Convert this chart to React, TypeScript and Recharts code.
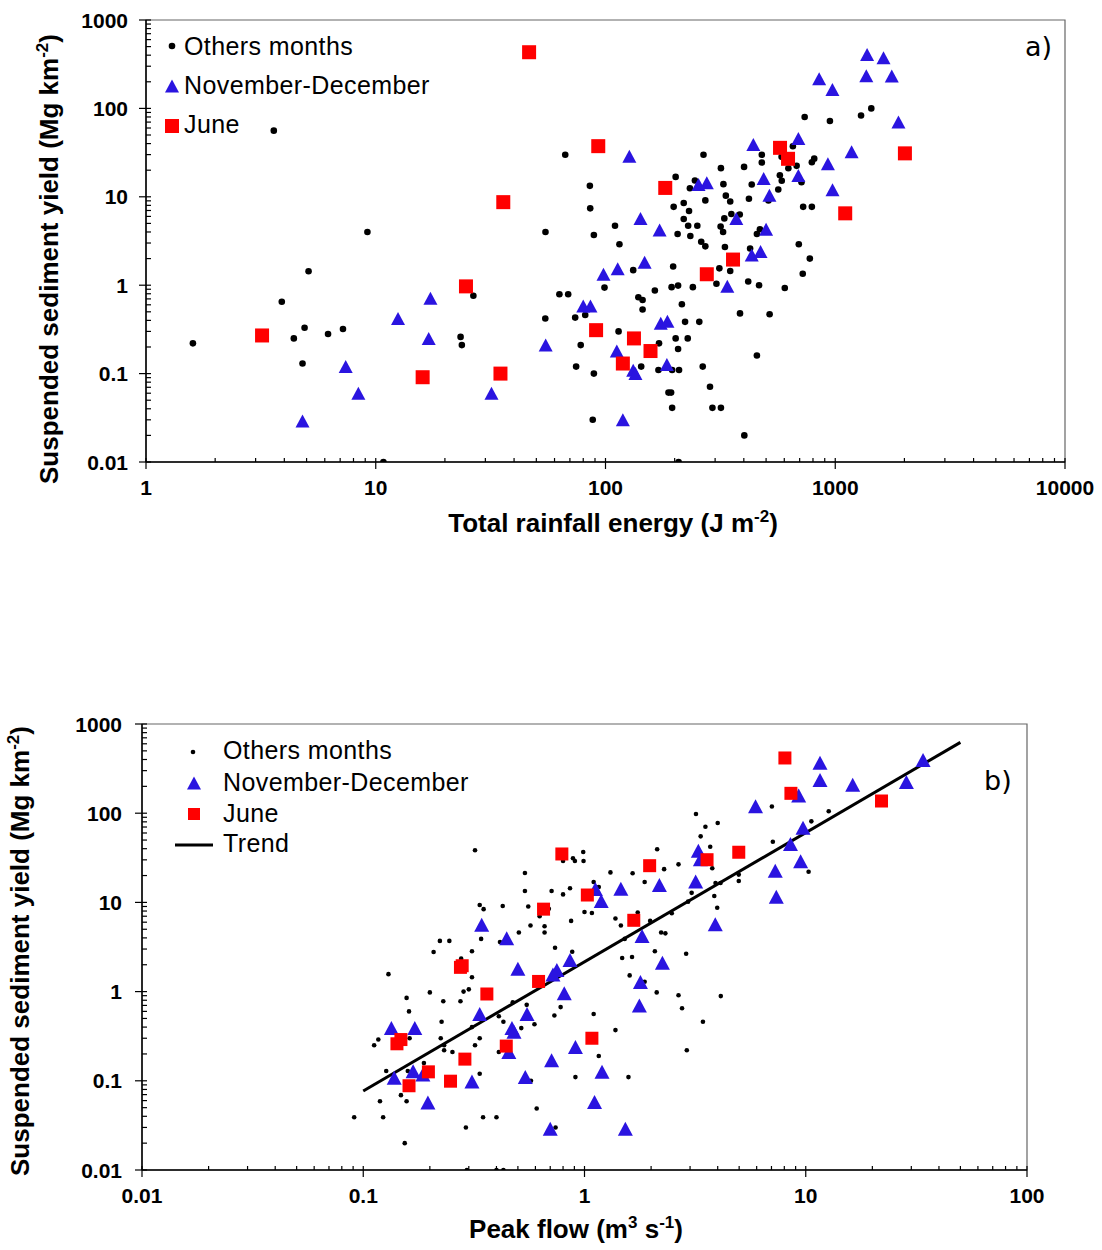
import React from "react";
import { ScatterChart, Scatter, XAxis, YAxis, ReferenceArea } from "recharts";

type Pt = [number, number];

// a) total rainfall energy (J m-2) vs suspended sediment yield (Mg km-2)
const othersA: Pt[] = [
  [1.6, 0.22], [3.6, 56], [3.9, 0.65], [5.1, 1.44], [4.4, 0.25], [4.9, 0.33], [4.8, 0.13], [6.2, 0.28],
  [7.2, 0.32], [9.2, 4.0], [10.8, 0.01], [23.4, 0.26], [23.7, 0.21], [26.6, 0.76], [54.7, 0.42], [54.8, 4.0],
  [63, 0.79], [68.8, 0.79], [66.8, 29.9], [85.5, 13.3], [85.8, 7.4], [89, 3.7], [110, 4.7], [115, 2.9],
  [99, 0.94], [132, 1.48], [197, 1.63], [164, 0.87], [202, 16.8], [245, 15.3], [233, 12.5], [219, 8.5],
  [198, 7.7], [231, 6.9], [219, 5.6], [229, 4.7], [251, 4.7], [206, 3.8], [234, 3.6], [261, 3.1],
  [272, 2.75], [267, 29.9], [318, 21.1], [326, 13.9], [334, 10.3], [349, 8.85], [272, 9.1], [401, 21.8],
  [433, 13.8], [421, 9.5], [329, 5.7], [353, 6.4], [384, 6.3], [317, 4.6], [325, 4.0], [331, 2.7],
  [349, 1.45], [313, 1.55], [304, 1.04], [194, 0.95], [207, 0.99], [240, 0.95], [479, 29.9], [479, 24.4],
  [654, 37.3], [584, 28.3], [625, 21], [679, 22.4], [791, 24.6], [810, 27], [574, 17.5], [585, 15.2],
  [565, 12.1], [512, 9.1], [713, 14.6], [725, 7.7], [791, 7.7], [694, 2.9], [775, 2.0], [722, 1.35],
  [603, 0.93], [418, 1.1], [466, 1.0], [456, 3.8], [470, 4.3], [426, 2.6], [736, 80], [948, 72],
  [1295, 83], [1435, 100], [139, 0.73], [145, 0.68], [215, 0.61], [145, 0.53], [222, 0.385], [256, 0.385],
  [385, 0.48], [518, 0.47], [114, 0.3], [78, 0.21], [171, 0.22], [202, 0.25], [228, 0.25], [207, 0.19],
  [456, 0.16], [74.5, 0.12], [89, 0.1], [143, 0.12], [170, 0.11], [195, 0.11], [209, 0.11], [265, 0.12],
  [285, 0.071], [188, 0.061], [193, 0.061], [195, 0.041], [292, 0.041], [318, 0.041], [88, 0.03], [402, 0.02],
  [208, 0.01], [73.8, 0.43], [81.6, 0.46],
];

const novDecA: Pt[] = [
  [4.8, 0.029], [7.4, 0.12], [8.4, 0.06], [12.5, 0.42], [17.3, 0.71], [17.0, 0.25], [31.9, 0.06], [54.9, 0.21],
  [127, 28.8], [254, 13.8], [276, 14.4], [440, 39], [691, 45.6], [1178, 32.3], [488, 16.1], [691, 17.4],
  [929, 23.6], [517, 10.4], [973, 12.0], [142, 5.7], [172, 4.2], [371, 5.7], [500, 4.3], [433, 2.2],
  [473, 2.4], [148, 1.82], [113, 1.53], [98, 1.33], [339, 0.97], [80, 0.58], [86, 0.58], [174, 0.37],
  [186, 0.39], [112, 0.18], [132, 0.109], [135, 0.1], [185, 0.127], [119, 0.03], [1376, 407], [1622, 373],
  [1365, 234], [1762, 232], [851, 216], [972, 164], [1884, 70],
];

const juneA: Pt[] = [
  [3.2, 0.27], [16.0, 0.091], [24.7, 0.97], [34.9, 0.1], [35.9, 8.7], [46.5, 432], [93, 37.4], [91, 0.31],
  [119, 0.13], [133, 0.25], [157, 0.18], [182, 12.6], [276, 1.33], [359, 1.95], [575, 35.8], [623, 26.9],
  [1105, 6.5], [2010, 31],
];

// b) peak flow (m3 s-1) vs suspended sediment yield (Mg km-2)
const othersB: Pt[] = [
  [0.091, 0.039], [0.119, 0.059], [0.123, 0.039], [0.154, 0.02], [0.148, 0.069], [0.157, 0.059], [0.13, 1.57],
  [0.157, 0.85], [0.161, 0.6], [0.112, 0.25], [0.117, 0.29], [0.162, 0.3], [0.127, 0.129], [0.2, 0.98],
  [0.208, 2.78], [0.23, 0.78], [0.226, 0.46], [0.224, 0.3], [0.232, 0.25], [0.232, 0.22], [0.253, 0.21],
  [0.188, 0.158], [0.159, 0.129], [0.291, 0.03], [0.294, 0.01], [0.4, 0.01], [0.43, 0.01], [0.348, 0.039],
  [0.4, 0.039], [0.336, 0.12], [0.336, 0.3], [0.32, 0.25], [0.275, 0.78], [0.284, 1.0], [0.3, 1.06],
  [0.277, 2.34], [0.31, 2.83], [0.31, 1.45], [0.41, 0.53], [0.43, 0.46], [0.474, 0.76], [0.41, 0.21],
  [0.518, 0.39], [0.548, 0.71], [0.594, 0.43], [0.573, 0.1], [0.608, 0.049], [0.731, 0.54],
  [0.32, 38.4], [0.336, 9.35], [0.35, 8.4], [0.427, 9.1], [0.538, 21.4], [0.538, 13.4], [0.557, 9.0],
  [0.71, 13.4], [0.57, 5.5], [0.505, 4.6], [0.66, 4.6], [0.341, 3.9], [0.415, 3.6], [0.222, 3.7],
  [0.245, 3.7], [0.736, 3.1], [0.69, 8.5], [0.66, 5.4], [0.627, 7.0], [0.8, 29.1], [0.905, 29.1],
  [0.987, 36.7], [0.99, 29.1], [0.887, 31.2], [0.8, 12.3], [0.86, 14.4], [0.87, 6.2], [1.0, 7.8],
  [1.08, 7.6], [1.1, 16.9], [1.16, 14.9], [1.31, 21.7], [1.65, 21.2], [1.87, 16.9], [1.38, 6.6],
  [1.46, 5.5], [1.74, 7.7], [1.98, 6.2], [2.13, 39.4], [2.08, 2.83], [1.48, 2.38], [1.64, 2.44],
  [1.6, 1.52], [1.87, 1.29], [2.12, 0.98], [0.31, 0.4], [0.78, 0.67], [1.1, 0.56], [1.38, 0.37],
  [1.16, 0.19], [0.91, 0.11], [1.58, 0.11], [0.74, 0.03], [0.88, 2.8], [2.88, 2.66], [2.66, 0.91],
  [4.13, 0.89], [2.76, 0.65], [3.43, 0.46], [2.9, 0.22], [7.03, 119], [12.7, 105], [10.6, 81],
  [3.19, 98], [3.52, 70.6], [4.0, 77.6], [3.35, 55], [3.7, 42], [7.1, 47.9], [3.78, 24.1], [3.91, 16.5],
  [4.12, 16.5], [4.98, 20.5], [4.98, 17.4], [10.3, 22.1], [3.05, 12.8], [2.94, 10.2], [3.86, 11.8],
  [3.98, 8.7], [2.66, 26.7], [2.29, 23.6], [2.48, 7.55], [2.22, 4.6], [2.32, 4.5], [1.52, 3.9],
];

const novDecB: Pt[] = [
  [0.134, 0.39], [0.171, 0.39], [0.138, 0.108], [0.168, 0.128], [0.186, 0.118], [0.196, 0.057], [0.31, 0.098],
  [0.336, 0.56], [0.455, 0.21], [0.47, 0.39], [0.48, 0.355], [0.5, 1.8], [0.54, 0.11], [0.55, 0.56],
  [0.72, 1.55], [0.75, 1.75], [0.71, 0.17], [0.7, 0.029], [0.86, 2.26], [0.81, 0.96], [2.25, 2.11],
  [1.79, 1.28], [1.77, 0.7], [0.91, 0.24], [1.2, 0.126], [1.11, 0.058], [1.53, 0.029], [0.343, 5.6],
  [0.445, 3.96], [1.19, 10.4], [1.12, 14.1], [1.46, 14.2], [1.82, 4.2], [2.18, 15.7], [11.6, 368],
  [11.6, 235], [16.3, 209], [33.9, 395], [28.5, 224], [5.93, 120], [9.29, 158], [9.72, 68.8], [8.53, 45.2],
  [9.48, 28.9], [7.28, 22.6], [7.36, 11.6], [3.9, 5.7], [3.27, 38], [3.34, 30.4], [3.18, 17.1],
];

const juneB: Pt[] = [
  [0.148, 0.29], [0.142, 0.26], [0.161, 0.088], [0.197, 0.126], [0.248, 0.099], [0.275, 1.87], [0.28, 1.95],
  [0.288, 0.175], [0.362, 0.94], [0.443, 0.245], [0.62, 1.3], [1.08, 0.3], [0.653, 8.4], [0.79, 34.9],
  [1.03, 12.1], [1.67, 6.3], [1.97, 25.8], [3.58, 30.1], [4.98, 36.5], [8.05, 416], [8.57, 167], [22.0, 137],
];

const trendB: Pt[] = [[0.1, 0.077], [50, 623]];

const xDecadesA = [1, 10, 100, 1000, 10000];
const xDecadesB = [0.01, 0.1, 1, 10, 100];
const yDecades = [0.01, 0.1, 1, 10, 100, 1000];

const FONT = '"Liberation Sans", Arial, sans-serif';
const BLUE = "#2a14e0";
const RED = "#ff0000";
const FRAME = "#666";

const withMinor = (dec: number[]) => {
  const out: number[] = [];
  dec.forEach((d, i) => {
    out.push(d);
    if (i < dec.length - 1) for (let k = 2; k <= 9; k++) out.push(+(d * k).toPrecision(6));
  });
  return out;
};
const isDecade = (v: number) => Math.abs(Math.log10(v) - Math.round(Math.log10(v))) < 1e-6;
const toObj = (pts: Pt[]) => pts.map(([x, y]) => ({ x, y }));

const dot = (r: number) => (p: any) => <circle cx={p.cx} cy={p.cy} r={r} fill="#000" />;
const tri = (w: number, h: number) => (p: any) => (
  <polygon
    points={`${p.cx - w / 2},${p.cy + h / 2} ${p.cx + w / 2},${p.cy + h / 2} ${p.cx},${p.cy - h / 2}`}
    fill={BLUE}
  />
);
const sq = (s: number) => (p: any) => <rect x={p.cx - s / 2} y={p.cy - s / 2} width={s} height={s} fill={RED} />;

const xTick = (p: any) => {
  const { x, y, payload } = p;
  const major = isDecade(payload.value);
  return (
    <g>
      <line x1={x} x2={x} y1={y - 4} y2={major ? y + 7 : y} stroke="#000" strokeWidth={1.2} />
      {major && (
        <text x={x} y={y + 33} textAnchor="middle" fontFamily={FONT} fontWeight="bold" fontSize={21} fill="#000">
          {String(payload.value)}
        </text>
      )}
    </g>
  );
};

const yTick = (gap: number) => (p: any) => {
  const { x, y, payload } = p;
  const major = isDecade(payload.value);
  return (
    <g>
      <line x1={major ? x - 7 : x} x2={x + 5} y1={y} y2={y} stroke="#000" strokeWidth={1.2} />
      {major && (
        <text x={x - gap} y={y + 7.5} textAnchor="end" fontFamily={FONT} fontWeight="bold" fontSize={21} fill="#000">
          {String(payload.value)}
        </text>
      )}
    </g>
  );
};

const axisLine = { stroke: "#000", strokeWidth: 1.5 };

function Legend() {
  const t = { fontFamily: FONT, fontSize: 25, letterSpacing: 0.4, fill: "#000" } as const;
  const ax = { fontFamily: FONT, fontSize: 26, fontWeight: "bold", fill: "#000" } as const;
  return (
    <svg width={1102} height={1250} style={{ position: "absolute", left: 0, top: 0, pointerEvents: "none" }}>
      {/* panel a legend */}
      <circle cx={172} cy={46} r={3.3} fill="#000" />
      <text x={184} y={55} {...t}>Others months</text>
      <polygon points="165,92.5 179,92.5 172,79.5" fill={BLUE} />
      <text x={184} y={94} {...t}>November-December</text>
      <rect x={165} y={119} width={14} height={14} fill={RED} />
      <text x={184} y={133} {...t}>June</text>
      <text x={1025} y={56} fontFamily='"DejaVu Sans", sans-serif' fontSize={27} fill="#000">a)</text>

      {/* panel a axis titles */}
      <text x={613} y={532} textAnchor="middle" {...ax}>
        Total rainfall energy (J m<tspan dy={-10} fontSize={17}>-2</tspan><tspan dy={10}>)</tspan>
      </text>
      <text x={58} y={259} textAnchor="middle" transform="rotate(-90 58 259)" {...ax}>
        Suspended sediment yield (Mg km<tspan dy={-10} fontSize={17}>-2</tspan><tspan dy={10}>)</tspan>
      </text>

      {/* panel b legend */}
      <circle cx={193} cy={752} r={2.3} fill="#000" />
      <text x={223} y={759} {...t}>Others months</text>
      <polygon points="187,789.5 201,789.5 194,776.5" fill={BLUE} />
      <text x={223} y={791} {...t}>November-December</text>
      <rect x={188} y={808} width={12} height={12} fill={RED} />
      <text x={223} y={822} {...t}>June</text>
      <line x1={175} x2={213} y1={845} y2={845} stroke="#000" strokeWidth={3} />
      <text x={223} y={852} {...t}>Trend</text>
      <text x={984} y={790} fontFamily='"DejaVu Sans", sans-serif' fontSize={27} fill="#000">b)</text>

      {/* panel b axis titles */}
      <text x={576} y={1238} textAnchor="middle" {...ax}>
        Peak flow (m<tspan dy={-10} fontSize={17}>3</tspan>
        <tspan dy={10}> s</tspan>
        <tspan dy={-10} fontSize={17}>-1</tspan>
        <tspan dy={10}>)</tspan>
      </text>
      <text x={29} y={951} textAnchor="middle" transform="rotate(-90 29 951)" {...ax}>
        Suspended sediment yield (Mg km<tspan dy={-10} fontSize={17}>-2</tspan><tspan dy={10}>)</tspan>
      </text>
    </svg>
  );
}

export default function App() {
  return (
    <div style={{ position: "absolute", left: 0, top: 0, width: 1102, height: 1250, background: "#fff" }}>
      <div style={{ position: "absolute", left: 0, top: 0 }}>
        <ScatterChart width={1102} height={560} margin={{ top: 20, right: 37, bottom: 58, left: 86 }}>
          <ReferenceArea x1={1} x2={10000} y1={0.01} y2={1000} fill="none" stroke={FRAME} strokeWidth={1.2} />
          <XAxis
            dataKey="x" type="number" scale="log" domain={[1, 10000]} allowDataOverflow
            ticks={withMinor(xDecadesA)} interval={0} tickSize={0} tickMargin={0} height={40}
            tick={xTick} axisLine={axisLine}
          />
          <YAxis
            dataKey="y" type="number" scale="log" domain={[0.01, 1000]} allowDataOverflow
            ticks={withMinor(yDecades)} interval={0} tickSize={0} tickMargin={0} width={60}
            tick={yTick(18)} axisLine={axisLine}
          />
          <Scatter data={toObj(othersA)} shape={dot(3.3)} isAnimationActive={false} />
          <Scatter data={toObj(novDecA)} shape={tri(14, 13)} isAnimationActive={false} />
          <Scatter data={toObj(juneA)} shape={sq(14)} isAnimationActive={false} />
        </ScatterChart>
      </div>
      <div style={{ position: "absolute", left: 0, top: 700 }}>
        <ScatterChart width={1102} height={540} margin={{ top: 24, right: 75, bottom: 30, left: 82 }}>
          <ReferenceArea x1={0.01} x2={100} y1={0.01} y2={1000} fill="none" stroke={FRAME} strokeWidth={1.2} />
          <XAxis
            dataKey="x" type="number" scale="log" domain={[0.01, 100]} allowDataOverflow
            ticks={withMinor(xDecadesB)} interval={0} tickSize={0} tickMargin={0} height={40}
            tick={xTick} axisLine={axisLine}
          />
          <YAxis
            dataKey="y" type="number" scale="log" domain={[0.01, 1000]} allowDataOverflow
            ticks={withMinor(yDecades)} interval={0} tickSize={0} tickMargin={0} width={60}
            tick={yTick(20)} axisLine={axisLine}
          />
          <Scatter data={toObj(othersB)} shape={dot(2.3)} isAnimationActive={false} />
          <Scatter data={toObj(trendB)} line={{ stroke: "#000", strokeWidth: 3 }} shape={() => <g />} isAnimationActive={false} />
          <Scatter data={toObj(novDecB)} shape={tri(15, 14)} isAnimationActive={false} />
          <Scatter data={toObj(juneB)} shape={sq(13)} isAnimationActive={false} />
        </ScatterChart>
      </div>
      <Legend />
    </div>
  );
}
